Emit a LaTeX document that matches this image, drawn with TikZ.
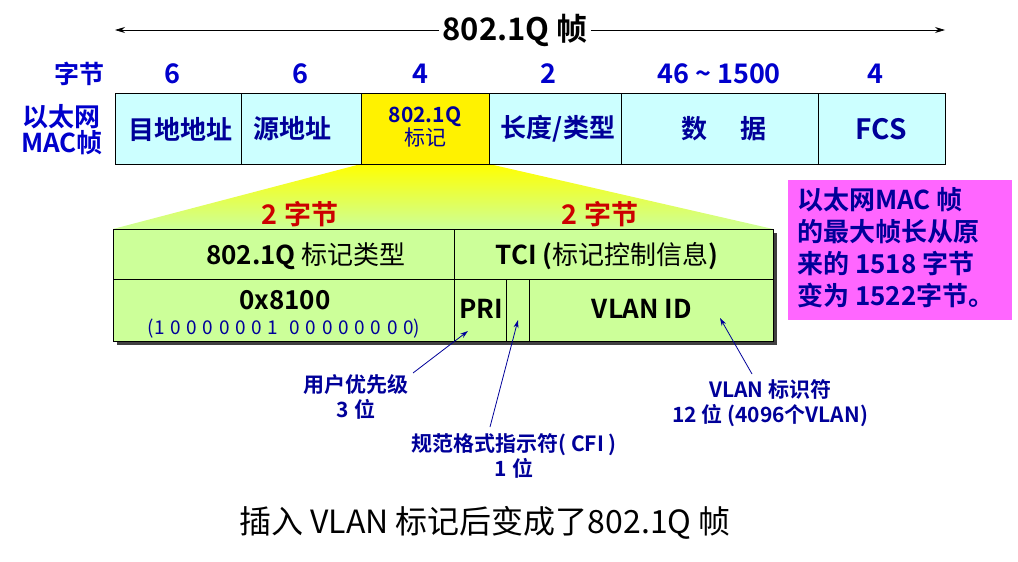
\documentclass[tikz,border=0pt]{standalone}
\usepackage{fontspec}
\setmainfont{Noto Sans CJK SC}[BoldFont={* Bold}]
\usetikzlibrary{arrows.meta,shadows}
\definecolor{dblue}{HTML}{000099}
\definecolor{nblue}{HTML}{0000CC}
\definecolor{cyanbox}{HTML}{CCFFFF}
\definecolor{gbox}{HTML}{CCFF99}
\definecolor{pinkbox}{HTML}{FF66FF}
\definecolor{rtxt}{HTML}{CC0000}
\newcommand\bsp{\hspace{0.3em}}
\begin{document}
\begin{tikzpicture}[x=1pt,y=-1pt,
  fbox/.style={draw=black,line width=0.8pt,fill=cyanbox},
  ftxt/.style={font=\fontsize{26}{28}\selectfont\bfseries,text=dblue},
  ntxt/.style={font=\fontsize{27}{28}\selectfont\bfseries,text=nblue},
  ttxt/.style={font=\fontsize{26}{28}\selectfont\bfseries,text=black},
  atxt/.style={font=\fontsize{21}{25}\selectfont\bfseries,text=dblue,align=center},
  arr/.style={-{Stealth[length=8pt,width=5pt]},draw=dblue,line width=0.8pt}]
\useasboundingbox (0,0) rectangle (1018,562);
% top arrow
\coordinate (al) at (115,30); \coordinate (ar) at (945,30);
\node[font=\fontsize{31}{32}\selectfont\bfseries,fill=white,inner sep=3pt] (title) at (515,30) {802.1Q 帧};
\draw[-{Stealth[length=10pt,width=6pt]},line width=0.8pt] (title.west) -- (al);
\draw[-{Stealth[length=10pt,width=6pt]},line width=0.8pt] (title.east) -- (ar);
% labels
\node[ntxt,font=\fontsize{25}{26}\selectfont\bfseries] (zj) at (79,74) {字节};
\node[align=center,font=\fontsize{26}{26}\selectfont\bfseries,text=nblue] (eth) at (62,130) {以太网\\MAC帧};
% gradient triangle
\shade[top color=yellow,bottom color=gbox] (361,164) -- (489,164) -- (773,229) -- (113,229) -- cycle;
% frame boxes
\draw[fbox] (115,93) rectangle (241,164);
\draw[fbox] (241,93) rectangle (361,164);
\draw[fbox,fill=yellow] (361,93) rectangle (489,164);
\draw[fbox] (489,93) rectangle (621,164);
\draw[fbox] (621,93) rectangle (818,164);
\draw[fbox] (818,93) rectangle (945,164);
\node[ftxt] (b1) at (180,129) {目地地址};
\node[ftxt] (b2) at (292,129) {源地址};
\node[align=center,font=\fontsize{21}{23}\selectfont\bfseries,text=dblue] (b3) at (425,127) {802.1Q\\{\mdseries 标记}};
\node[ftxt] (b4) at (558,129) {长度/类型};
\node[ftxt] (b5) at (724,129) {数\hspace{1.3em}据};
\node[ftxt,font=\fontsize{28}{28}\selectfont\bfseries] (b6) at (881,129) {FCS};
\node[ntxt] (n1) at (172,74) {6};
\node[ntxt] (n2) at (300,74) {6};
\node[ntxt] (n3) at (420,74) {4};
\node[ntxt] (n4) at (548,74) {2};
\node[ntxt] (n5) at (719,74) {46 \textasciitilde{} 1500};
\node[ntxt] (n6) at (875,74) {4};
% red labels
\node[font=\fontsize{27}{28}\selectfont\bfseries,text=rtxt] (r1) at (300,214) {2 字节};
\node[font=\fontsize{27}{28}\selectfont\bfseries,text=rtxt] (r2) at (600,214) {2 字节};
% table
\fill[black!75] (117,233) rectangle (777,345);
\draw[fill=gbox,line width=0.8pt] (113,229) rectangle (773,341);
\draw[line width=0.8pt] (113,279) -- (773,279);
\draw[line width=0.8pt] (454,229) -- (454,341);
\draw[line width=0.8pt] (506,279) -- (506,341);
\draw[line width=0.8pt] (529,279) -- (529,341);
\node[ttxt] (t1) at (306,256) {802.1Q {\mdseries 标记类型}};
\node[ttxt] (t2) at (607,256) {TCI ({\mdseries 标记控制信息})};
\node[ttxt] (t3) at (285,300) {0x8100};
\node[font=\fontsize{19}{20}\selectfont,text=dblue] (t4) at (284,329) {(1\bsp0\bsp0\bsp0\bsp0\bsp0\bsp0\bsp1\bsp\bsp0\bsp0\bsp0\bsp0\bsp0\bsp0\bsp0\bsp0)};
\node[ttxt,inner sep=0pt] (pri) at (481,309) {PRI};
\coordinate (cfi) at (518,320);
\node[ttxt] (vid) at (642,309) {VLAN ID};
\coordinate (vidp) at (720,318);
% pink box
\node[fill=pinkbox,minimum width=224pt,minimum height=140pt,anchor=north west,inner sep=0pt] (pink) at (788,180) {};
\node[font=\fontsize{26}{32}\selectfont\bfseries,text=dblue,align=left,anchor=north west,inner sep=0pt] (pt) at (797,187) {以太网MAC 帧\\的最大帧长从原\\来的 1518 字节\\变为 1522字节。};
% annotations
\node[atxt] (a1) at (356,397) {用户优先级\\3 位};
\node[atxt] (a2) at (514,456) {规范格式指示符( CFI )\\1 位};
\node[atxt] (a3) at (770,403) {VLAN 标识符\\12 位 (4096个VLAN)};
\draw[arr] (413,373) -- (468,331);
\draw[arr] (490,427) -- (cfi);
\draw[arr] (752,374) -- (vidp);
% caption
\node[font=\fontsize{32}{34}\selectfont] (cap) at (485,523) {插入 VLAN 标记后变成了802.1Q 帧};
\end{tikzpicture}
\end{document}
